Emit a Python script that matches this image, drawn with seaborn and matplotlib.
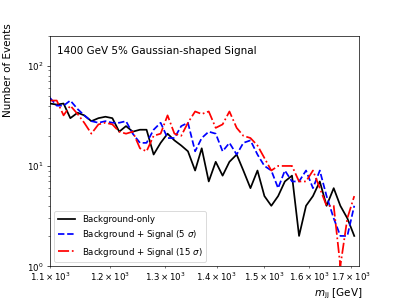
import matplotlib
matplotlib.use("Agg")
import matplotlib.pyplot as plt
import seaborn as sns
import pandas as pd

mjj = [1100, 1111, 1122, 1133, 1145, 1156, 1168, 1180, 1192, 1204,
       1216, 1228, 1240, 1253, 1265, 1278, 1291, 1304, 1317, 1330,
       1343, 1357, 1370, 1384, 1398, 1412, 1426, 1441, 1455, 1470,
       1485, 1500, 1515, 1530, 1545, 1561, 1577, 1593, 1609, 1625,
       1641, 1658, 1674, 1691, 1708]

bkg_only = [42, 41, 42, 30, 34, 32, 28, 30, 31, 30,
            22, 25, 22, 23, 23, 13, 17, 21, 18, 16,
            14, 9, 15, 7, 11, 8, 11, 13, 9, 6,
            9, 5, 4, 5, 7, 8, 2, 4, 5, 7,
            4, 6, 4, 3, 2]

bkg_sig5 = [48, 40, 40, 45, 37, 32, 28, 27, 28, 27,
            27, 28, 21, 17, 17, 23, 27, 19, 19, 25,
            27, 14, 19, 22, 21, 14, 17, 13, 17, 18,
            13, 10, 9, 6, 9, 7, 7, 9, 6, 9,
            5, 3, 2, 2, 4]

bkg_sig15 = [45, 45, 32, 40, 33, 27, 21, 26, 27, 26,
             22, 21, 22, 15, 14, 20, 21, 32, 21, 20,
             27, 35, 33, 35, 24, 26, 35, 24, 20, 19,
             16, 12, 9, 10, 10, 10, 7, 7, 9, 6,
             4, 4, 1, 3, 5]

labels = ["Background-only", "Background + Signal (5 $\\sigma$)",
          "Background + Signal (15 $\\sigma$)"]
colors = ["black", "blue", "red"]
styles = ["-", "--", "-."]

fig, ax = plt.subplots(figsize=(6.4, 4.8), dpi=399 / 6.4)

for vals, lab, col, ls in zip([bkg_only, bkg_sig5, bkg_sig15], labels, colors, styles):
    df = pd.DataFrame({"mjj": mjj, "n": vals})
    sns.lineplot(data=df, x="mjj", y="n", ax=ax, color=col, linestyle=ls,
                 linewidth=2, label=lab)

ax.set_xscale("log")
ax.set_yscale("log")
ax.set_xlim(1100, 1720)
ax.set_ylim(1, 200)
ax.set_xlabel("$m_{\\mathrm{jj}}$ [GeV]", fontsize=12, x=1.01,
              horizontalalignment="right")
ax.set_ylabel("Number of Events", fontsize=12, y=1.055,
              horizontalalignment="right", labelpad=17)
ax.text(0.022, 0.935, "1400 GeV 5% Gaussian-shaped Signal", transform=ax.transAxes,
        fontsize=12, va="center", ha="left")
ax.legend(loc="lower left", fontsize=10)

fig.savefig("out.png", dpi=399 / 6.4)
